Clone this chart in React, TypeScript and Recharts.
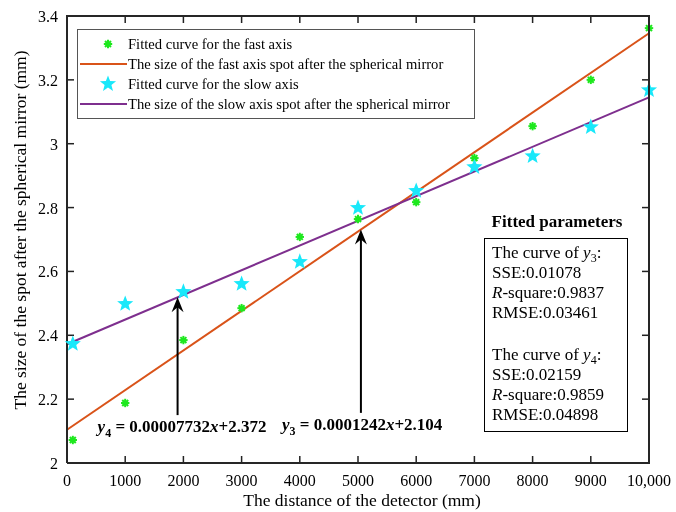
import {
  ComposedChart,
  Line,
  Scatter,
  XAxis,
  YAxis,
  ReferenceLine,
} from "recharts";

// distances (mm) and measured spot sizes (mm)
const distances = [100, 1000, 2000, 3000, 4000, 5000, 6000, 7000, 8000, 9000, 10000];
const fastSizes = [2.072, 2.188, 2.385, 2.485, 2.708, 2.764, 2.817, 2.955, 3.055, 3.2, 3.362];
const slowSizes = [2.373, 2.498, 2.536, 2.561, 2.63, 2.799, 2.852, 2.927, 2.961, 3.052, 3.168];

// fitted line end points
const fitX = [0, 10000];
const fastFit = [2.104, 3.346];
const slowFit = [2.372, 3.145];

const xTicks = [0, 1000, 2000, 3000, 4000, 5000, 6000, 7000, 8000, 9000, 10000];
const yTicks = [2, 2.2, 2.4, 2.6, 2.8, 3, 3.2, 3.4];

const GREEN = "#1ee81e";
const CYAN = "#19e8fa";
const ORANGE = "#D95319";
const PURPLE = "#7E2F8E";
const INK = "#262626";
const FONT = '"Liberation Serif", "Times New Roman", serif';

const W = 676;
const H = 512;
const M = { top: 16, right: 27, bottom: 0, left: 0 };

const fastPts = distances.map((x, i) => ({ x, y: fastSizes[i] }));
const slowPts = distances.map((x, i) => ({ x, y: slowSizes[i] }));
const fastLine = fitX.map((x, i) => ({ x, y: fastFit[i] }));
const slowLine = fitX.map((x, i) => ({ x, y: slowFit[i] }));

function fmtX(v: number) {
  return v === 10000 ? "10,000" : String(v);
}

function Asterisk({ cx, cy }: any) {
  const r = 4.2;
  const d = r * 0.7071;
  return (
    <g stroke={GREEN} strokeWidth={2} fill={GREEN}>
      <circle cx={cx} cy={cy} r={2.6} stroke="none" />
      <line x1={cx - r} y1={cy} x2={cx + r} y2={cy} />
      <line x1={cx} y1={cy - r} x2={cx} y2={cy + r} />
      <line x1={cx - d} y1={cy - d} x2={cx + d} y2={cy + d} />
      <line x1={cx - d} y1={cy + d} x2={cx + d} y2={cy - d} />
    </g>
  );
}

function starPath(cx: number, cy: number, ro: number, ri: number) {
  const pts: string[] = [];
  for (let i = 0; i < 10; i++) {
    const r = i % 2 === 0 ? ro : ri;
    const a = -Math.PI / 2 + (i * Math.PI) / 5;
    pts.push(`${cx + r * Math.cos(a)},${cy + r * Math.sin(a)}`);
  }
  return pts.join(" ");
}

function Star({ cx, cy }: any) {
  return <polygon points={starPath(cx, cy, 8.5, 3.6)} fill={CYAN} />;
}

function BottomTick({ x, y, payload }: any) {
  return (
    <text x={x} y={y + 23} textAnchor="middle" fontSize={16} fontFamily={FONT} fill="#000">
      {fmtX(payload.value)}
    </text>
  );
}

function LeftTick({ x, y, payload }: any) {
  return (
    <text x={x - 9} y={y + 6} textAnchor="end" fontSize={16} fontFamily={FONT} fill="#000">
      {String(payload.value)}
    </text>
  );
}

// inward tick marks at both ends of a full-height / full-width reference line
function vTickMarks(p: any) {
  const { x1, y1, y2 } = p;
  const top = Math.min(y1, y2);
  const bot = Math.max(y1, y2);
  return (
    <g>
      <line x1={x1} y1={bot} x2={x1} y2={bot - 7} stroke="#222" strokeWidth={1.5} />
      <line x1={x1} y1={top} x2={x1} y2={top + 7} stroke="#222" strokeWidth={1.5} />
    </g>
  );
}

function hTickMarks(p: any) {
  const { x1, x2, y1 } = p;
  const l = Math.min(x1, x2);
  const r = Math.max(x1, x2);
  return (
    <g>
      <line x1={l} y1={y1} x2={l + 7} y2={y1} stroke="#222" strokeWidth={1.5} />
      <line x1={r} y1={y1} x2={r - 7} y2={y1} stroke="#222" strokeWidth={1.5} />
    </g>
  );
}

function arrowShape(labelDx: number, sub: string, rest: string) {
  return (p: any) => {
    const { x1, y1, x2, y2 } = p;
    const top = Math.min(y1, y2);
    const bot = Math.max(y1, y2);
    return (
      <g>
        <line x1={x1} y1={bot} x2={x2} y2={top + 4} stroke="#000" strokeWidth={2} />
        <path
          d={`M${x1},${top} L${x1 - 6},${top + 15} L${x1},${top + 10} L${x1 + 6},${top + 15} Z`}
          fill="#000"
        />
        <text
          x={x1 + labelDx}
          y={bot + 17}
          fontSize={17}
          fontWeight="bold"
          fontFamily={FONT}
          fill="#000"
        >
          <tspan fontStyle="italic">y</tspan>
          <tspan fontSize={12} dy={5}>{sub}</tspan>
          <tspan dy={-5}>{" = " + rest.split("x")[0]}</tspan>
          <tspan fontStyle="italic">x</tspan>
          <tspan>{rest.split("x")[1]}</tspan>
        </text>
      </g>
    );
  };
}

const legendItems = [
  { label: "Fitted curve for the fast axis", kind: "ast" },
  { label: "The size of the fast axis spot after the spherical mirror", kind: "line", color: ORANGE },
  { label: "Fitted curve for the slow axis", kind: "star" },
  { label: "The size of the slow axis spot after the spherical mirror", kind: "line", color: PURPLE },
];

function LegendBox() {
  return (
    <div
      style={{
        position: "absolute",
        left: 77,
        top: 29,
        border: "1.5px solid #555",
        background: "#fff",
        width: 394,
        padding: "4px 0 4px 2px",
        fontFamily: FONT,
        fontSize: 14.6,
        lineHeight: "20px",
        color: "#000",
      }}
    >
      {legendItems.map((it) => (
        <div key={it.label} style={{ display: "flex", alignItems: "center", whiteSpace: "nowrap", height: 20 }}>
          <svg width={48} height={18} style={{ flex: "none" }}>
            {it.kind === "ast" && <Asterisk cx={28} cy={9} />}
            {it.kind === "star" && <Star cx={28} cy={9} />}
            {it.kind === "line" && (
              <line x1={0} y1={9} x2={47} y2={9} stroke={it.color} strokeWidth={2} />
            )}
          </svg>
          <span>{it.label}</span>
        </div>
      ))}
    </div>
  );
}

function YTitle() {
  const cx = 20;
  const cy = 230;
  return (
    <text
      x={cx}
      y={cy}
      transform={`rotate(-90 ${cx} ${cy})`}
      textAnchor="middle"
      dominantBaseline="central"
      fontSize={17.5}
      fontFamily={FONT}
      fill="#000"
    >
      The size of the spot after the spherical mirror (mm)
    </text>
  );
}

function XTitle({ viewBox }: any) {
  return (
    <text
      x={viewBox.x + viewBox.width / 2 + 4}
      y={506}
      textAnchor="middle"
      fontSize={17.5}
      fontFamily={FONT}
      fill="#000"
    >
      The distance of the detector (mm)
    </text>
  );
}

const subStyle: React.CSSProperties = {
  fontSize: 12,
  verticalAlign: "baseline",
  position: "relative",
  top: 4,
  lineHeight: 0,
};

export default function App() {
  return (
    <div style={{ position: "fixed", left: 0, top: 0, width: W, height: H }}>
      <ComposedChart width={W} height={H} margin={M}>
        <XAxis
          dataKey="x"
          type="number"
          domain={[0, 10000]}
          ticks={xTicks}
          height={49}
          axisLine={{ stroke: INK, strokeWidth: 2 }}
          tickLine={false}
          tickSize={0}
          tickMargin={0}
          tick={<BottomTick />}
          interval={0}
          label={<XTitle />}
        />
        <YAxis
          dataKey="y"
          type="number"
          domain={[2, 3.4]}
          ticks={yTicks}
          width={67}
          axisLine={{ stroke: INK, strokeWidth: 2 }}
          tickLine={false}
          tickSize={0}
          tickMargin={0}
          tick={<LeftTick />}
          interval={0}
          label={<YTitle />}
        />
        {/* inward tick marks on all four sides */}
        {xTicks.map((t) => (
          <ReferenceLine key={"xt" + t} x={t} ifOverflow="visible" shape={vTickMarks} />
        ))}
        {yTicks.map((t) => (
          <ReferenceLine key={"yt" + t} y={t} ifOverflow="visible" shape={hTickMarks} />
        ))}
        <Line
          data={fastLine}
          dataKey="y"
          stroke={ORANGE}
          strokeWidth={2}
          dot={false}
          isAnimationActive={false}
        />
        <Line
          data={slowLine}
          dataKey="y"
          stroke={PURPLE}
          strokeWidth={2}
          dot={false}
          isAnimationActive={false}
        />
        <Scatter data={fastPts} shape={<Asterisk />} isAnimationActive={false} />
        <Scatter data={slowPts} shape={<Star />} isAnimationActive={false} />
        <ReferenceLine
          segment={[
            { x: 1900, y: 2.15 },
            { x: 1900, y: 2.519 },
          ]}
          shape={arrowShape(-80, "4", "0.00007732x+2.372")}
        />
        <ReferenceLine
          segment={[
            { x: 5050, y: 2.157 },
            { x: 5050, y: 2.731 },
          ]}
          shape={arrowShape(-79, "3", "0.0001242x+2.104")}
        />
      </ComposedChart>
      {/* top and right edges of the axes box */}
      <div
        style={{
          position: "absolute",
          left: 66,
          top: 15,
          width: 584,
          height: 449,
          boxSizing: "border-box",
          borderTop: `2px solid ${INK}`,
          borderRight: `2px solid ${INK}`,
          pointerEvents: "none",
        }}
      />
      <LegendBox />
      <div
        style={{
          position: "absolute",
          left: 484,
          top: 212,
          width: 144,
          fontFamily: FONT,
          color: "#000",
        }}
      >
        <div style={{ fontWeight: "bold", fontSize: 17, textAlign: "center", marginBottom: 6, marginLeft: 2, lineHeight: "20px" }}>
          Fitted parameters
        </div>
        <div
          style={{
            border: "1.5px solid #000",
            padding: "4px 0 6px 7px",
            fontSize: 17,
            lineHeight: "20px",
          }}
        >
          <div>
            The curve of <i>y</i>
            <span style={subStyle}>3</span>:
          </div>
          <div>SSE:0.01078</div>
          <div>
            <i>R</i>-square:0.9837
          </div>
          <div>RMSE:0.03461</div>
          <div style={{ height: 22 }} />
          <div>
            The curve of <i>y</i>
            <span style={subStyle}>4</span>:
          </div>
          <div>SSE:0.02159</div>
          <div>
            <i>R</i>-square:0.9859
          </div>
          <div>RMSE:0.04898</div>
        </div>
      </div>
    </div>
  );
}
